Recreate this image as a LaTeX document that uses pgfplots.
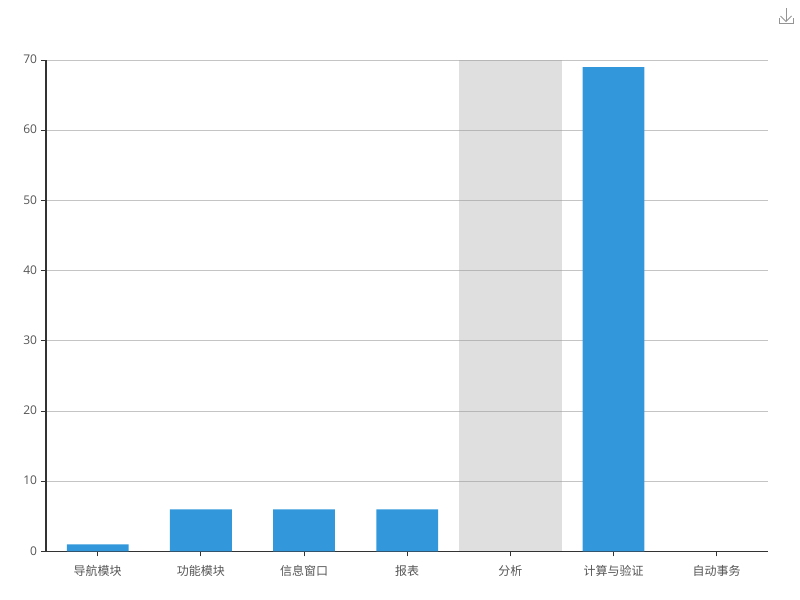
\documentclass[border=0pt]{standalone}
\usepackage{pgfplots}
\pgfplotsset{compat=1.18}
\usepackage{fontspec}
\setmainfont{Open Sans}
\newfontfamily\cjk{Noto Sans CJK SC}
\definecolor{barblue}{HTML}{3398DB}
\definecolor{bandgrey}{HTML}{969696}
\definecolor{gridgrey}{HTML}{C4C4C4}
\definecolor{axisdark}{HTML}{333333}
\definecolor{txt}{HTML}{555555}
\begin{document}
\begin{tikzpicture}
\useasboundingbox (0,0) rectangle (600pt,450pt);
\begin{axis}[
  name=ax,
  at={(34.6pt,36.4pt)}, anchor=south west,
  scale only axis, width=541.6pt, height=368.5pt,
  xmin=-0.5, xmax=6.5, ymin=0, ymax=70,
  xtick={0,1,2,3,4,5,6},
  xticklabels={导航模块,功能模块,信息窗口,报表,分析,计算与验证,自动事务},
  ytick={0,10,20,30,40,50,60,70},
  axis x line=bottom, axis y line=left,
  x axis line style={draw=axisdark,line width=0.9pt,-},
  y axis line style={draw=axisdark,line width=0.9pt,-},
  ymajorgrids, major grid style={draw=gridgrey,line width=0.75pt},
  major tick length=3.75pt,
  tick style={draw=axisdark,line width=0.75pt},
  tick align=outside,
  xticklabel style={font=\cjk\fontsize{9}{11}\selectfont,text=txt,yshift=-3pt},
  yticklabel style={font=\fontsize{9}{11}\selectfont,text=txt,yshift=0.5pt,xshift=0.5pt},
  /pgf/number format/assume math mode=true,
]
\addplot[ybar, bar width=1, fill=bandgrey, fill opacity=0.3, draw=none] coordinates {(4,70)};
\addplot[ybar, bar width=0.6, fill=barblue, draw=none] coordinates {(0,1) (1,6) (2,6) (3,6) (5,69)};
\end{axis}
\fill[axisdark] (34.1pt,36pt) rectangle (35.1pt,405.3pt);
\foreach \v in {0,1,...,7} {
  \fill[axisdark] (30.6pt,36.0pt+\v*52.643pt) rectangle (34.6pt,36.8pt+\v*52.643pt);
}
\begin{scope}[x=0.75pt,y=0.75pt]
\draw[color=black!42,line width=0.7pt] (786,592) -- (786,578.5);
\draw[color=black!42,line width=0.7pt] (780.5,584) -- (786,578.5) -- (791.5,584);
\draw[color=black!42,line width=0.7pt] (779,582) -- (779,577) -- (793,577) -- (793,582);
\end{scope}
\end{tikzpicture}
\end{document}
